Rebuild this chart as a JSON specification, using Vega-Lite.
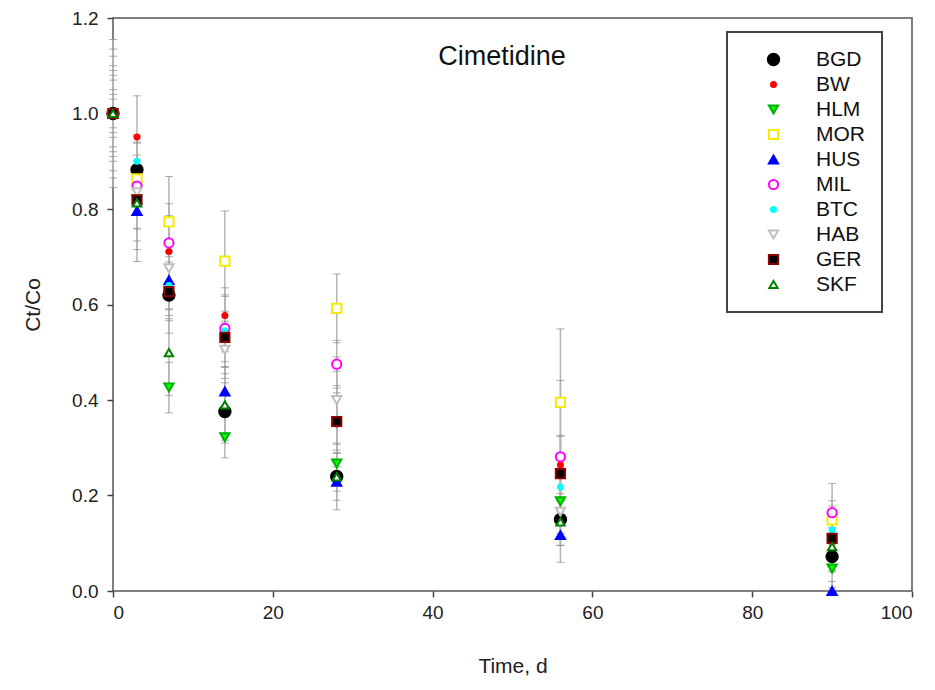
{
  "$schema": "https://vega.github.io/schema/vega-lite/v6.json",
  "width": 799,
  "height": 573,
  "autosize": {"type": "none"},
  "padding": {"left": 113, "top": 18, "right": 23, "bottom": 99},
  "background": "white",
  "config": {
    "view": {"stroke": "#555", "strokeWidth": 1.5},
    "font": "Liberation Sans",
    "axis": {"grid": false, "domain": false, "tickColor": "#444", "tickSize": 6, "tickWidth": 1.5, "labelFont": "Liberation Sans", "labelFontSize": 19, "labelColor": "#222", "titleFont": "Liberation Sans", "titleFontSize": 21, "titleFontWeight": "normal", "titleColor": "#222", "labelPadding": 6},
    "legend": {"orient": "none", "legendX": 614, "legendY": 14, "padding": 17, "strokeColor": "#444", "strokeWidth": 2, "fillColor": "white", "labelFont": "Liberation Sans", "labelFontSize": 21, "labelColor": "#111", "symbolOffset": 19, "labelOffset": 32, "rowPadding": 3, "symbolStrokeWidth": 2, "symbolOpacity": 1}
  },
  "data": {"values": [
    {"s":"BGD","t":0,"v":1.0,"lo":0.95,"hi":1.05},
    {"s":"BW","t":0,"v":1.0,"lo":0.845,"hi":1.155},
    {"s":"HLM","t":0,"v":1.0,"lo":0.97,"hi":1.03},
    {"s":"MOR","t":0,"v":1.0,"lo":0.90,"hi":1.10},
    {"s":"HUS","t":0,"v":1.0,"lo":0.93,"hi":1.07},
    {"s":"MIL","t":0,"v":1.0,"lo":0.88,"hi":1.12},
    {"s":"BTC","t":0,"v":1.0,"lo":0.92,"hi":1.08},
    {"s":"HAB","t":0,"v":1.0,"lo":0.865,"hi":1.135},
    {"s":"GER","t":0,"v":1.0,"lo":0.96,"hi":1.04},
    {"s":"SKF","t":0,"v":1.0,"lo":0.91,"hi":1.09},
    {"s":"BGD","t":3,"v":0.882,"lo":0.812,"hi":0.952},
    {"s":"BW","t":3,"v":0.951,"lo":0.865,"hi":1.037},
    {"s":"HLM","t":3,"v":0.82,"lo":0.76,"hi":0.88},
    {"s":"MOR","t":3,"v":0.863,"lo":0.813,"hi":0.913},
    {"s":"HUS","t":3,"v":0.796,"lo":0.69,"hi":0.902},
    {"s":"MIL","t":3,"v":0.848,"lo":0.758,"hi":0.938},
    {"s":"BTC","t":3,"v":0.90,"lo":0.86,"hi":0.94},
    {"s":"HAB","t":3,"v":0.835,"lo":0.715,"hi":0.955},
    {"s":"GER","t":3,"v":0.819,"lo":0.789,"hi":0.849},
    {"s":"SKF","t":3,"v":0.813,"lo":0.733,"hi":0.893},
    {"s":"BGD","t":7,"v":0.62,"lo":0.54,"hi":0.70},
    {"s":"BW","t":7,"v":0.711,"lo":0.611,"hi":0.811},
    {"s":"HLM","t":7,"v":0.426,"lo":0.373,"hi":0.479},
    {"s":"MOR","t":7,"v":0.773,"lo":0.678,"hi":0.868},
    {"s":"HUS","t":7,"v":0.651,"lo":0.591,"hi":0.711},
    {"s":"MIL","t":7,"v":0.729,"lo":0.689,"hi":0.769},
    {"s":"BTC","t":7,"v":0.64,"lo":0.57,"hi":0.71},
    {"s":"HAB","t":7,"v":0.676,"lo":0.566,"hi":0.786},
    {"s":"GER","t":7,"v":0.627,"lo":0.577,"hi":0.677},
    {"s":"SKF","t":7,"v":0.499,"lo":0.409,"hi":0.589},
    {"s":"BGD","t":14,"v":0.376,"lo":0.316,"hi":0.436},
    {"s":"BW","t":14,"v":0.577,"lo":0.537,"hi":0.617},
    {"s":"HLM","t":14,"v":0.322,"lo":0.279,"hi":0.365},
    {"s":"MOR","t":14,"v":0.691,"lo":0.586,"hi":0.796},
    {"s":"HUS","t":14,"v":0.418,"lo":0.368,"hi":0.468},
    {"s":"MIL","t":14,"v":0.55,"lo":0.48,"hi":0.62},
    {"s":"BTC","t":14,"v":0.545,"lo":0.455,"hi":0.635},
    {"s":"HAB","t":14,"v":0.505,"lo":0.445,"hi":0.565},
    {"s":"GER","t":14,"v":0.531,"lo":0.501,"hi":0.561},
    {"s":"SKF","t":14,"v":0.39,"lo":0.31,"hi":0.47},
    {"s":"BGD","t":28,"v":0.24,"lo":0.19,"hi":0.29},
    {"s":"BW","t":28,"v":0.35,"lo":0.27,"hi":0.43},
    {"s":"HLM","t":28,"v":0.267,"lo":0.227,"hi":0.307},
    {"s":"MOR","t":28,"v":0.592,"lo":0.52,"hi":0.664},
    {"s":"HUS","t":28,"v":0.229,"lo":0.17,"hi":0.288},
    {"s":"MIL","t":28,"v":0.475,"lo":0.425,"hi":0.525},
    {"s":"BTC","t":28,"v":0.36,"lo":0.26,"hi":0.46},
    {"s":"HAB","t":28,"v":0.40,"lo":0.31,"hi":0.49},
    {"s":"GER","t":28,"v":0.355,"lo":0.295,"hi":0.415},
    {"s":"SKF","t":28,"v":0.239,"lo":0.209,"hi":0.269},
    {"s":"BGD","t":56,"v":0.15,"lo":0.11,"hi":0.19},
    {"s":"BW","t":56,"v":0.264,"lo":0.204,"hi":0.324},
    {"s":"HLM","t":56,"v":0.188,"lo":0.138,"hi":0.238},
    {"s":"MOR","t":56,"v":0.395,"lo":0.241,"hi":0.549},
    {"s":"HUS","t":56,"v":0.117,"lo":0.06,"hi":0.174},
    {"s":"MIL","t":56,"v":0.281,"lo":0.121,"hi":0.441},
    {"s":"BTC","t":56,"v":0.218,"lo":0.188,"hi":0.248},
    {"s":"HAB","t":56,"v":0.166,"lo":0.096,"hi":0.236},
    {"s":"GER","t":56,"v":0.246,"lo":0.166,"hi":0.326},
    {"s":"SKF","t":56,"v":0.145,"lo":0.095,"hi":0.195},
    {"s":"BGD","t":90,"v":0.072,"lo":0.042,"hi":0.102},
    {"s":"BW","t":90,"v":0.10,"lo":0.05,"hi":0.15},
    {"s":"HLM","t":90,"v":0.047,"lo":0.007,"hi":0.087},
    {"s":"MOR","t":90,"v":0.149,"lo":0.109,"hi":0.189},
    {"s":"HUS","t":90,"v":0.0,"lo":0.0,"hi":0.02},
    {"s":"MIL","t":90,"v":0.164,"lo":0.103,"hi":0.225},
    {"s":"BTC","t":90,"v":0.128,"lo":0.078,"hi":0.178},
    {"s":"HAB","t":90,"v":0.10,"lo":0.04,"hi":0.16},
    {"s":"GER","t":90,"v":0.11,"lo":0.08,"hi":0.14},
    {"s":"SKF","t":90,"v":0.093,"lo":0.053,"hi":0.133}
  ]},
  "layer": [
    {
      "mark": {"type": "rule", "color": "#b4b4b4", "strokeWidth": 1.5},
      "encoding": {
        "x": {"field": "t", "type": "quantitative", "scale": {"domain": [0, 100], "nice": false}, "axis": {"values": [0, 20, 40, 60, 80, 100], "format": "d", "title": "Time, d", "titleY": 64}},
        "y": {"field": "lo", "type": "quantitative", "scale": {"domain": [0, 1.2], "nice": false}, "axis": {"values": [0, 0.2, 0.4, 0.6, 0.8, 1.0, 1.2], "format": ".1f", "title": "Ct/Co", "titleX": -70, "labelPadding": 9}},
        "y2": {"field": "hi"}
      }
    },
    {
      "mark": {"type": "tick", "orient": "horizontal", "color": "#8a8a8a", "size": 8, "thickness": 1},
      "encoding": {
        "x": {"field": "t", "type": "quantitative"},
        "y": {"field": "lo", "type": "quantitative"}
      }
    },
    {
      "mark": {"type": "tick", "orient": "horizontal", "color": "#8a8a8a", "size": 8, "thickness": 1},
      "encoding": {
        "x": {"field": "t", "type": "quantitative"},
        "y": {"field": "hi", "type": "quantitative"}
      }
    },
    {
      "mark": {"type": "point", "opacity": 1, "strokeWidth": 2},
      "encoding": {
        "x": {"field": "t", "type": "quantitative"},
        "y": {"field": "v", "type": "quantitative"},
        "shape": {"field": "s", "type": "nominal", "scale": {"domain": ["BGD","BW","HLM","MOR","HUS","MIL","BTC","HAB","GER","SKF"], "range": ["circle","circle","triangle-down","square","triangle-up","circle","circle","triangle-down","square","triangle-up"]}, "legend": {"title": null}},
        "stroke": {"field": "s", "type": "nominal", "scale": {"domain": ["BGD","BW","HLM","MOR","HUS","MIL","BTC","HAB","GER","SKF"], "range": ["#000000","#ff0000","#00b000","#f5ec00","#0000ff","#ff00ff","#00ffff","#c0c0c0","#8b0000","#008000"]}, "legend": {"title": null}},
        "fill": {"field": "s", "type": "nominal", "scale": {"domain": ["BGD","BW","HLM","MOR","HUS","MIL","BTC","HAB","GER","SKF"], "range": ["#000000","#ff0000","#00ff00","#ffffff","#0000ff","#ffffff","#00ffff","#ffffff","#000000","#ffffff"]}, "legend": {"title": null}},
        "size": {"field": "s", "type": "nominal", "scale": {"type": "ordinal", "domain": ["BGD","BW","HLM","MOR","HUS","MIL","BTC","HAB","GER","SKF"], "range": [130, 25, 85, 85, 85, 85, 25, 85, 85, 70]}, "legend": {"title": null}}
      }
    },
    {
      "data": {"values": [{"label": "Cimetidine", "x": 48.7, "y": 1.118}]},
      "mark": {"type": "text", "fontSize": 27, "font": "Liberation Sans", "color": "#111", "align": "center", "baseline": "middle"},
      "encoding": {
        "text": {"field": "label"},
        "x": {"field": "x", "type": "quantitative"},
        "y": {"field": "y", "type": "quantitative"}
      }
    }
  ]
}
